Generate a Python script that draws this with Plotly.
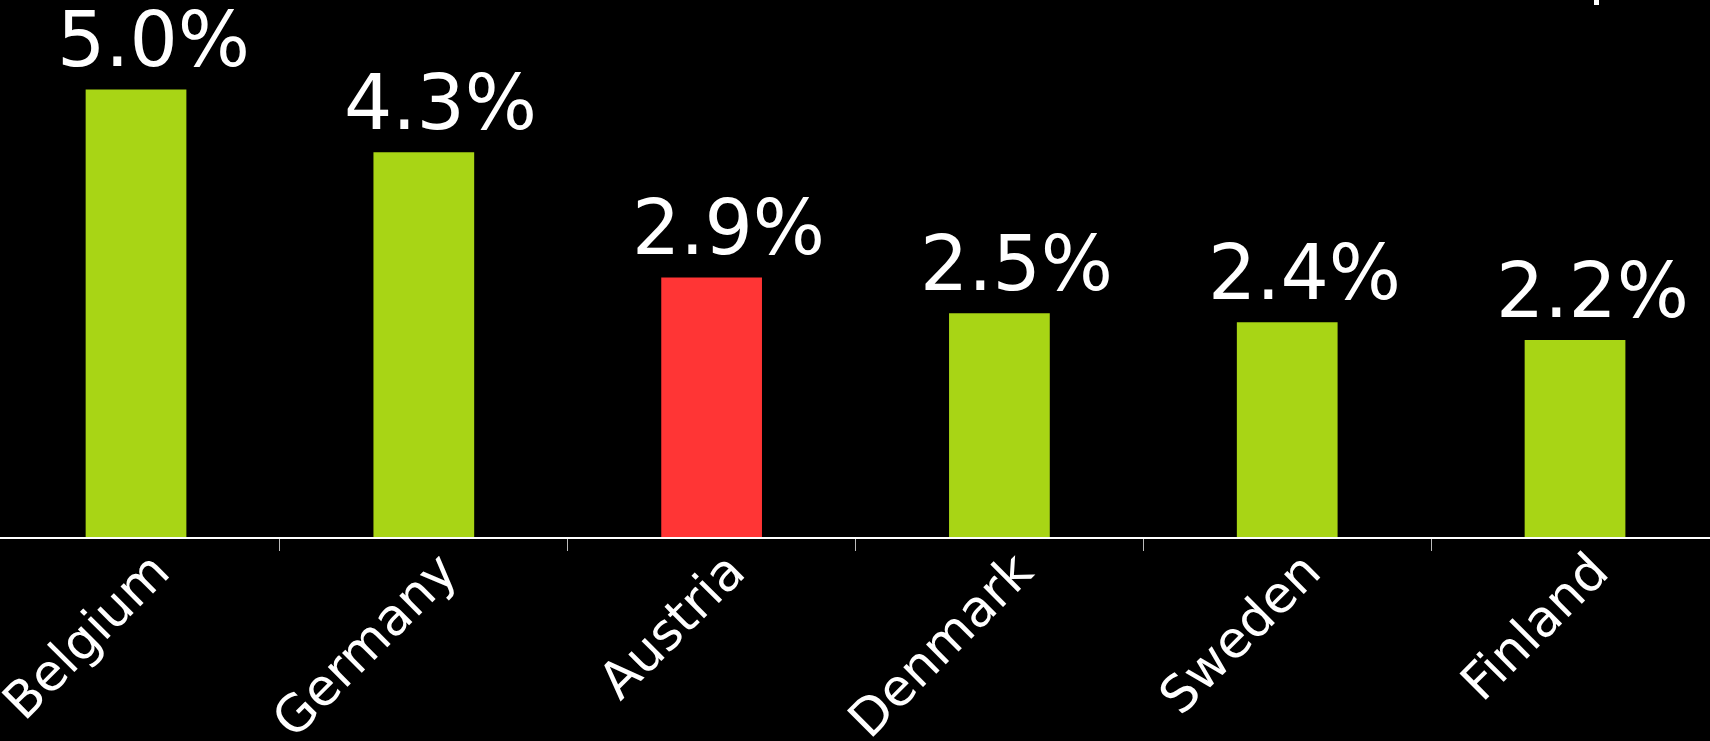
import plotly.graph_objects as go

countries = ["Belgium", "Germany", "Austria", "Denmark", "Sweden", "Finland"]
values = [5.0, 4.3, 2.9, 2.5, 2.4, 2.2]
labels = ["5.0%", "4.3%", "2.9%", "2.5%", "2.4%", "2.2%"]
highlight = ["Austria"]

GREEN = "#A8D515"
RED = "#FF3535"
colors = [RED if c in highlight else GREEN for c in countries]

fig = go.Figure()
fig.add_trace(go.Bar(
    x=countries, y=values, width=0.35,
    marker=dict(color=colors, line=dict(width=0)),
    hoverinfo="skip",
))

for c, v, t in zip(countries, values, labels):
    fig.add_annotation(
        x=c, y=v, text=t, showarrow=False,
        xanchor="center", yanchor="bottom", yshift=3, xshift=17,
        font=dict(family="DejaVu Sans", size=76, color="white"),
    )

fig.update_layout(
    width=1710, height=741,
    paper_bgcolor="black", plot_bgcolor="black",
    margin=dict(l=0, r=0, t=0, b=204, autoexpand=False),
    showlegend=False,
    bargap=0.65,
    xaxis=dict(
        type="category",
        range=[-0.4726, 5.469],
        automargin=False,
        showgrid=False, zeroline=False,
        showline=True, linecolor="white", linewidth=1.5,
        ticks="outside", tickson="boundaries", ticklen=12,
        tickcolor="#bbbbbb", tickwidth=1,
        tickangle=-45,
        ticklabelshift=18,
        ticklabelstandoff=-18,
        tickfont=dict(family="DejaVu Sans", size=51, color="white"),
    ),
    yaxis=dict(range=[0, 6], visible=False, automargin=False,
               showgrid=False, zeroline=False),
    shapes=[dict(type="rect", xref="paper", yref="paper",
                 x0=1594 / 1710, x1=1599 / 1710, y0=1 - 5 / 537, y1=1,
                 fillcolor="white", line=dict(width=0))],
)

fig.write_html(
    "out.html",
    config={"displayModeBar": False},
    post_script="document.body.style.margin='0';document.body.style.overflow='hidden';document.body.style.background='black';",
)
